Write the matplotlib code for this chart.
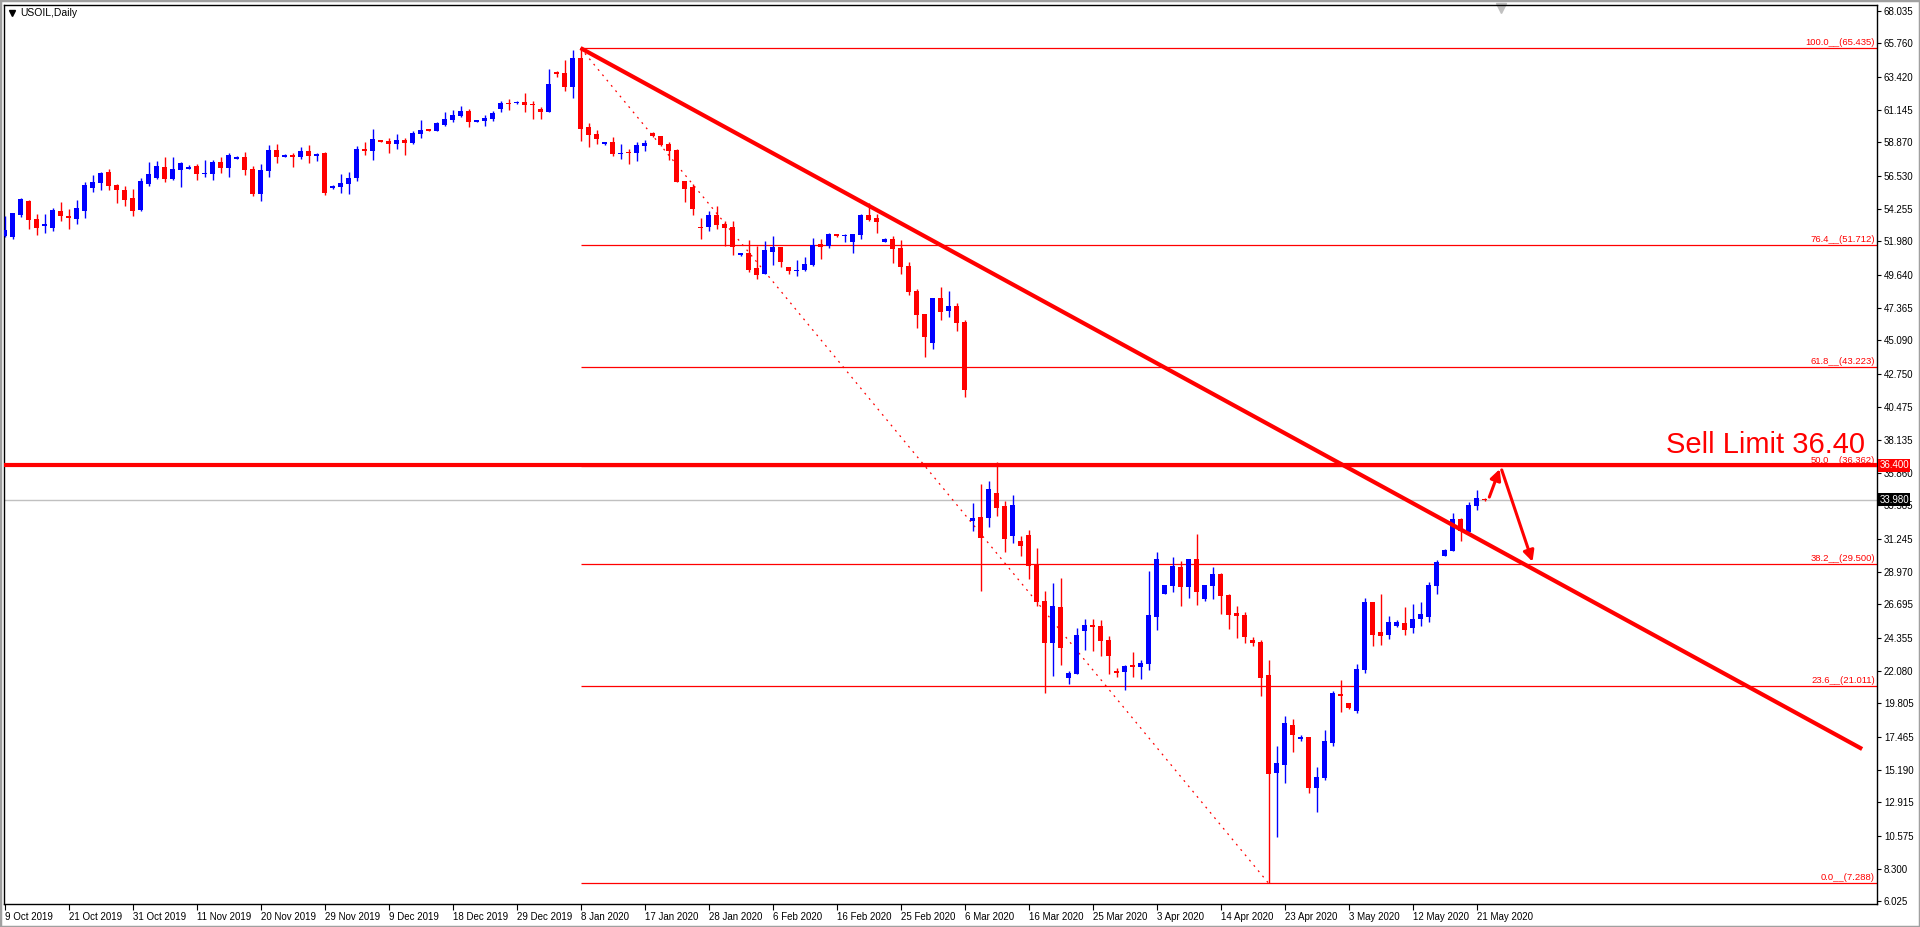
import matplotlib
matplotlib.use("Agg")
import matplotlib.pyplot as plt
import matplotlib.transforms as mtransforms
from matplotlib.patches import Rectangle

plt.rcParams['font.family'] = ['Liberation Sans', 'DejaVu Sans']

# USOIL daily candles, 9 Oct 2019 .. 22 May 2020
opens = [52.34, 52.30, 53.81, 54.78, 53.53, 53.07, 52.93, 54.09, 53.76, 53.55,
         54.11, 55.69, 56.06, 56.80, 55.90, 55.55, 54.99, 54.16, 55.97, 56.39,
         57.15, 56.32, 56.94, 57.01, 57.22, 56.66, 56.66, 57.50, 57.08, 57.71,
         57.85, 57.01, 55.27, 56.87, 58.34, 57.85, 57.99, 57.87, 58.27, 57.92,
         58.15, 55.67, 55.78, 55.97, 56.41, 58.43, 58.27, 59.03, 58.96, 58.75,
         59.03, 58.85, 59.45, 59.80, 59.68, 60.08, 60.42, 60.70, 61.05, 60.31,
         60.35, 60.49, 61.19, 61.63, 61.61, 61.68, 61.54, 61.19, 60.98, 63.77,
         63.70, 62.72, 64.74, 59.94, 59.45, 58.75, 58.89, 58.08, 58.20, 58.15,
         58.64, 59.52, 59.31, 58.75, 58.34, 56.18, 55.76, 52.97, 53.00, 53.79,
         53.18, 52.97, 51.02, 51.16, 50.12, 49.70, 51.23, 51.58, 50.19, 49.91,
         49.98, 50.33, 51.79, 51.65, 52.49, 52.35, 51.96, 52.42, 53.81, 53.60,
         51.93, 52.14, 51.51, 50.26, 48.52, 46.92, 44.90, 48.03, 47.13, 47.47,
         46.36, 32.53, 32.78, 32.74, 34.45, 33.55, 31.48, 31.11, 31.53, 29.46,
         26.93, 24.03, 26.52, 21.57, 21.87, 24.84, 25.26, 25.19, 24.22, 22.06,
         21.99, 22.48, 22.34, 22.55, 25.82, 27.42, 27.98, 29.30, 27.91, 29.86,
         27.07, 27.98, 28.81, 27.35, 26.10, 25.96, 24.22, 24.08, 21.78, 14.93,
         15.54, 18.28, 17.35, 17.46, 13.94, 14.61, 17.07, 20.46, 19.83, 19.27,
         22.13, 26.86, 24.78, 24.57, 25.19, 25.40, 25.05, 25.68, 25.82, 27.98,
         30.07, 30.41, 32.64, 31.74, 33.55, 34.04]
highs = [53.74, 53.93, 54.99, 54.85, 53.88, 53.88, 54.30, 54.71, 54.23, 54.85,
         56.11, 56.61, 56.80, 57.01, 55.97, 55.83, 55.62, 56.39, 57.50, 57.57,
         57.85, 57.85, 57.50, 57.29, 57.36, 57.64, 57.64, 57.85, 58.13, 57.92,
         58.20, 57.22, 57.36, 58.68, 58.75, 58.06, 58.13, 58.57, 58.68, 58.10,
         58.20, 55.88, 56.66, 56.80, 58.61, 58.90, 59.80, 59.06, 59.17, 59.45,
         59.17, 59.66, 60.42, 59.82, 60.31, 60.98, 61.12, 61.40, 61.19, 60.45,
         60.77, 61.05, 61.75, 61.89, 61.72, 62.30, 61.75, 61.33, 63.97, 63.84,
         64.60, 65.30, 65.435, 60.22, 59.73, 58.89, 59.24, 58.75, 58.40, 58.89,
         59.03, 59.59, 59.31, 58.89, 58.40, 56.18, 55.97, 53.60, 54.09, 54.44,
         53.39, 53.39, 51.16, 52.07, 51.65, 52.00, 52.35, 51.58, 50.19, 50.68,
         50.89, 52.21, 52.14, 52.56, 52.49, 52.49, 52.49, 53.88, 54.65, 53.88,
         52.21, 52.35, 52.07, 50.54, 48.66, 46.92, 48.03, 48.80, 48.52, 47.68,
         46.50, 33.76, 35.10, 35.27, 36.61, 33.90, 34.31, 31.46, 31.88, 30.62,
         27.63, 28.19, 28.53, 22.06, 25.05, 25.68, 25.68, 25.61, 24.50, 22.27,
         22.48, 23.38, 22.83, 29.02, 30.35, 28.05, 30.00, 29.72, 29.86, 31.60,
         28.05, 29.30, 28.88, 27.42, 26.59, 26.17, 24.43, 24.22, 22.83, 16.84,
         18.93, 18.70, 17.60, 17.46, 15.38, 17.95, 20.67, 21.43, 19.83, 22.55,
         27.14, 26.86, 27.42, 25.89, 25.61, 26.52, 26.72, 26.86, 28.26, 29.79,
         30.55, 33.06, 32.71, 33.83, 34.66, 34.10]
lows = [52.30, 52.16, 53.69, 52.84, 52.44, 52.58, 52.72, 53.42, 52.86, 53.18,
        53.62, 55.41, 55.55, 55.55, 54.65, 54.44, 53.74, 54.09, 55.83, 56.32,
        56.11, 56.25, 55.76, 57.01, 56.25, 56.48, 56.25, 56.73, 56.48, 57.71,
        56.61, 55.13, 54.78, 56.48, 57.43, 57.85, 57.15, 57.71, 57.45, 57.59,
        55.20, 55.62, 55.32, 55.27, 56.20, 57.99, 57.64, 58.89, 58.15, 58.41,
        57.99, 58.75, 59.17, 59.66, 59.66, 60.01, 60.29, 60.63, 59.94, 60.28,
        60.01, 60.35, 60.98, 61.12, 61.56, 60.98, 60.49, 60.49, 60.98, 63.42,
        62.44, 61.96, 58.96, 58.54, 58.75, 58.68, 57.92, 57.71, 57.36, 57.57,
        58.29, 59.24, 58.64, 57.64, 56.13, 54.72, 53.81, 52.14, 52.70, 52.83,
        51.65, 51.02, 50.95, 49.84, 49.35, 49.70, 50.33, 50.19, 49.70, 49.56,
        49.91, 50.26, 50.75, 51.51, 52.28, 51.96, 51.16, 52.14, 53.39, 52.56,
        51.93, 50.47, 49.70, 48.24, 45.94, 43.92, 44.48, 46.50, 46.71, 45.73,
        41.14, 31.83, 27.63, 32.11, 32.88, 30.37, 30.99, 30.09, 28.49, 26.61,
        20.55, 21.73, 22.50, 21.18, 21.87, 23.52, 23.45, 23.10, 21.85, 21.64,
        20.74, 21.64, 21.50, 22.13, 24.92, 27.42, 27.56, 26.59, 27.14, 26.66,
        26.93, 27.07, 26.03, 24.98, 24.36, 24.01, 23.80, 20.32, 7.288, 10.50,
        14.28, 16.44, 17.21, 13.59, 12.27, 14.47, 16.86, 19.20, 19.41, 19.13,
        21.92, 23.80, 23.87, 24.29, 25.12, 24.57, 24.71, 25.19, 25.47, 27.42,
        30.07, 30.41, 31.11, 31.74, 33.27, 33.90]
closes = [52.77, 53.93, 54.92, 53.46, 52.93, 53.18, 54.16, 53.76, 53.62, 54.30,
          55.90, 56.11, 56.73, 55.83, 55.55, 54.85, 54.09, 56.18, 56.66, 57.22,
          56.32, 57.01, 57.43, 57.15, 56.66, 56.73, 57.50, 57.08, 57.99, 57.85,
          56.94, 55.27, 56.94, 58.34, 57.85, 57.99, 57.85, 58.29, 57.92, 58.06,
          55.32, 55.83, 56.06, 56.39, 58.41, 58.27, 59.10, 58.92, 58.78, 59.03,
          58.85, 59.52, 59.73, 59.68, 60.22, 60.49, 60.77, 61.05, 60.29, 60.42,
          60.56, 60.91, 61.61, 61.56, 61.68, 61.47, 61.49, 60.98, 62.96, 63.63,
          62.72, 64.74, 59.80, 59.38, 59.10, 58.89, 58.06, 58.15, 58.13, 58.68,
          58.82, 59.31, 58.71, 58.29, 56.13, 55.64, 54.25, 52.90, 53.79, 53.13,
          52.90, 51.58, 51.16, 49.98, 49.63, 51.37, 51.58, 50.54, 49.91, 49.98,
          50.40, 51.72, 51.58, 52.49, 52.35, 52.42, 52.49, 53.81, 53.46, 53.32,
          52.14, 51.44, 50.19, 48.45, 46.85, 45.32, 48.03, 47.06, 47.47, 46.29,
          41.62, 32.74, 31.34, 34.73, 33.43, 31.27, 33.62, 30.79, 29.39, 26.89,
          24.03, 26.59, 23.68, 21.92, 24.59, 25.26, 25.12, 24.15, 23.10, 21.94,
          22.41, 22.34, 22.62, 25.96, 29.86, 28.05, 29.37, 27.91, 29.86, 27.56,
          28.05, 28.81, 27.28, 25.96, 25.89, 24.43, 24.01, 21.57, 14.89, 15.63,
          18.42, 17.63, 17.49, 13.94, 14.66, 17.19, 20.53, 20.32, 19.48, 22.20,
          26.86, 24.57, 24.50, 25.47, 25.47, 24.91, 25.68, 26.03, 28.05, 29.65,
          30.48, 32.64, 31.81, 33.62, 34.10, 33.98]

date_labels = ["9 Oct 2019", "21 Oct 2019", "31 Oct 2019", "11 Nov 2019", "20 Nov 2019",
               "29 Nov 2019", "9 Dec 2019", "18 Dec 2019", "29 Dec 2019", "8 Jan 2020",
               "17 Jan 2020", "28 Jan 2020", "6 Feb 2020", "16 Feb 2020", "25 Feb 2020",
               "6 Mar 2020", "16 Mar 2020", "25 Mar 2020", "3 Apr 2020", "14 Apr 2020",
               "23 Apr 2020", "3 May 2020", "12 May 2020", "21 May 2020"]
bars_per_label = 8

price_ticks = [68.035, 65.760, 63.420, 61.145, 58.870, 56.530, 54.255, 51.980, 49.640,
               47.365, 45.090, 42.750, 40.475, 38.135, 35.860, 33.585, 31.245, 28.970,
               26.695, 24.355, 22.080, 19.805, 17.465, 15.190, 12.915, 10.575, 8.300, 6.025]

# fibonacci retracement from the Jan high to the Apr low
fib_start_bar = 72
fib_end_bar = 158
fib_levels = [100.0, 76.4, 61.8, 50.0, 38.2, 23.6, 0.0]
fib_prices = [65.435, 51.712, 43.223, 36.362, 29.500, 21.011, 7.288]

# hand drawn objects
trend_x = [72, 232.2]
trend_y = [65.435, 16.63]
sell_limit = 36.40
last_price = 33.98
arrow_up = [(185.6, 34.17), (186.9, 36.12)]
arrow_down = [(187.15, 36.06), (191.0, 29.67)]

fig = plt.figure(figsize=(19.2, 9.27), dpi=100)
ax = fig.add_axes([3.5 / 1920, 23 / 927, (1877 - 3.5) / 1920, (904 - 4.7) / 927])
ax.set_xlim(-0.125, 234.06)
ax.set_ylim(5.837, 68.453)

# candles
xs = list(range(len(opens)))
body_bottom = []
body_height = []
colors = []
for o, c in zip(opens, closes):
    body_bottom.append(min(o, c))
    body_height.append(max(abs(c - o), 0.07))
    colors.append('#0000ff' if c >= o else '#ff0000')
ax.vlines(xs, lows, highs, colors=colors, linewidth=1.0, zorder=3)
ax.bar(xs, body_height, bottom=body_bottom, width=0.62, color=colors, linewidth=0, zorder=3)

# current price line
ax.axhline(last_price, color='#c0c0c0', linewidth=1.0, zorder=1)

# fibo levels
blend = mtransforms.blended_transform_factory(ax.transAxes, ax.transData)
for lvl, p in zip(fib_levels, fib_prices):
    ax.hlines(p, fib_start_bar, 234.06, colors='#ff0000', linewidth=0.9, zorder=2)
    ax.text(0.9988, p + 0.05, "%.1f__(%.3f)" % (lvl, p), transform=blend, ha='right',
            va='bottom', fontsize=6.8, color='#ff0000', zorder=2)
ax.plot([fib_start_bar, fib_end_bar], [fib_prices[0], fib_prices[-1]], color='#ff0000',
        linewidth=0.9, linestyle=(0, (1.5, 4)), zorder=2)

# trend line and sell limit
ax.plot(trend_x, trend_y, color='#ff0000', linewidth=3.0, solid_capstyle='butt', zorder=4)
ax.axhline(sell_limit, color='#ff0000', linewidth=3.0, zorder=4)
ax.text(232.56, 37.24, "Sell Limit 36.40", ha='right', va='baseline', fontsize=21,
        color='#ff0000', zorder=5)

for a in (arrow_up, arrow_down):
    ax.annotate("", xy=a[1], xytext=a[0],
                arrowprops=dict(arrowstyle='-|>', color='#ff0000', lw=2.2,
                                mutation_scale=16, shrinkA=0, shrinkB=0), zorder=5)

# axes styling like the terminal
for s in ax.spines.values():
    s.set_color('black')
    s.set_linewidth(1.0)
ax.yaxis.tick_right()
ax.set_yticks(price_ticks)
ax.set_yticklabels(["%.3f" % t for t in price_ticks])
ax.tick_params(axis='y', direction='out', length=3, width=0.8, pad=2, labelsize=7)
ax.set_xticks([i * bars_per_label for i in range(len(date_labels))])
ax.set_xticklabels(date_labels)
ax.tick_params(axis='x', direction='out', length=4, width=0.8, pad=2, labelsize=7)
for lbl in ax.get_xticklabels():
    lbl.set_ha('left')

# price tags on the scale
ax.text(1.0012, sell_limit, "36.400", transform=blend, ha='left', va='center', fontsize=7,
        color='white', clip_on=False, zorder=6,
        bbox=dict(boxstyle='square,pad=0.15', facecolor='#ff0000', edgecolor='none'))
ax.text(1.0012, last_price, "33.980", transform=blend, ha='left', va='center', fontsize=7,
        color='white', clip_on=False, zorder=6,
        bbox=dict(boxstyle='square,pad=0.15', facecolor='black', edgecolor='none'))

# title and markers
ax.plot([0.0045], [0.9908], marker='v', color='black', markersize=4.5,
        transform=ax.transAxes, clip_on=False)
ax.text(0.0092, 0.9908, "USOIL,Daily", transform=ax.transAxes, ha='left', va='center',
        fontsize=7.5, color='black')
ax.plot([0.7993], [0.996], marker='v', color='#c0c0c0', markersize=7,
        transform=ax.transAxes, clip_on=False)

fig.patches.append(Rectangle((0, 0), 1, 1, transform=fig.transFigure, fill=False,
                             edgecolor='#a0a0a0', linewidth=2.5))

fig.savefig("out.png", dpi=100, facecolor='white')
